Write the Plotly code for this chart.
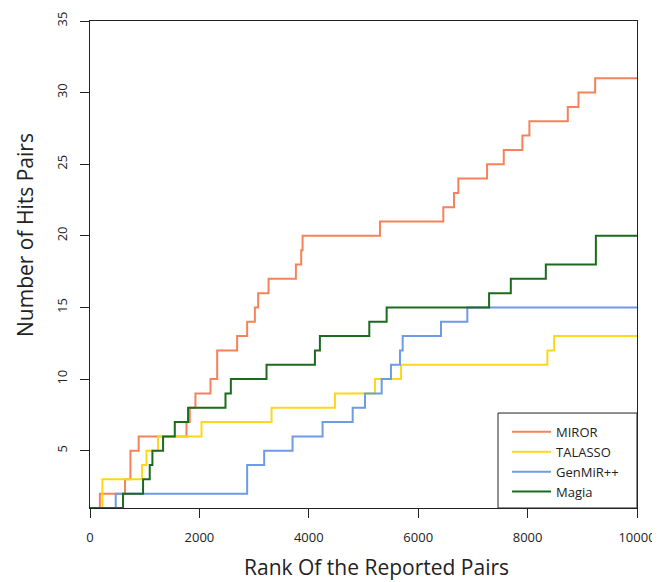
import plotly.graph_objects as go

# ---- data ----
miror_x = [0, 180, 640, 739, 890, 1764, 1824, 1928, 2203, 2325, 2690, 2873, 3014, 3074,
           3264, 3764, 3861, 3886, 5301, 6459, 6655, 6734, 7259, 7564, 7905, 8033, 8735,
           8930, 9235, 10000]
miror_y = [1, 2, 3, 5, 6, 7, 8, 9, 10, 12, 13, 14, 15, 16, 17, 18, 19, 20, 21, 22, 23, 24,
           25, 26, 27, 28, 29, 30, 31, 31]

talasso_x = [0, 227, 952, 1032, 1244, 2038, 3319, 4478, 5210, 5686, 8362, 8485, 10000]
talasso_y = [1, 3, 4, 5, 6, 7, 8, 9, 10, 11, 12, 13, 13]

genmir_x = [0, 470, 2873, 3184, 3703, 4252, 4802, 5027, 5332, 5502, 5667, 5716, 6417, 6898, 10000]
genmir_y = [1, 2, 4, 5, 6, 7, 8, 9, 10, 11, 12, 13, 14, 15, 15]

magia_x = [0, 604, 970, 1092, 1141, 1336, 1550, 1793, 2477, 2575, 3227, 4112, 4203, 5106,
           5423, 7296, 7693, 8333, 9248, 10000]
magia_y = [1, 2, 3, 4, 5, 6, 7, 8, 9, 10, 11, 12, 13, 14, 15, 16, 17, 18, 20, 20]

series_names = ["MIROR", "TALASSO", "GenMiR++", "Magia"]
series_colors = ["#F5825A", "#FFD71A", "#6E9BE3", "#1B6B1E"]

x_ticks = [0, 2000, 4000, 6000, 8000, 10000]
y_ticks = [5, 10, 15, 20, 25, 30, 35]

FONT = "Open Sans"

fig = go.Figure()
for name, xs, ys, col in zip(series_names,
                             [miror_x, talasso_x, genmir_x, magia_x],
                             [miror_y, talasso_y, genmir_y, magia_y],
                             series_colors):
    fig.add_trace(go.Scatter(x=xs, y=ys, mode="lines", name=name,
                             line=dict(color=col, width=2, shape="hv")))

# the page body adds an 8px offset, so the figure is 8px smaller than the window
fig.update_layout(
    width=652, height=574,
    margin=dict(l=82, r=23, t=13, b=74, autoexpand=False),
    paper_bgcolor="white", plot_bgcolor="white",
    font=dict(family=FONT, color="#222"),
    showlegend=True,
    legend=dict(x=0.7624, y=0.1871, xanchor="left", yanchor="top",
                bgcolor="rgba(0,0,0,0)", borderwidth=0,
                font=dict(size=13, family=FONT, color="#222"),
                itemwidth=39, tracegroupgap=0),
    shapes=[
        # legend frame (R-style box, flush with the plot's bottom-right corner)
        dict(type="rect", xref="paper", yref="paper", x0=0.7459, x1=1, y0=0, y1=0.195,
             line=dict(color="#222", width=1), fillcolor="white", layer="above"),
    ],
    annotations=[
        dict(text="Rank Of the Reported Pairs", xref="paper", yref="paper",
             x=0.5238, y=-0.1211, xanchor="center", yanchor="middle",
             showarrow=False, font=dict(size=21, family=FONT, color="#222")),
        dict(text="Number of Hits Pairs", xref="paper", yref="paper",
             x=-0.1188, y=0.5606, xanchor="center", yanchor="middle", textangle=-90,
             showarrow=False, font=dict(size=21, family=FONT, color="#222")),
    ],
)
fig.update_xaxes(range=[0, 10000], tickvals=x_ticks, ticktext=[str(v) for v in x_ticks],
                 ticks="outside", ticklen=9, tickcolor="#222", showline=True,
                 linecolor="#222", linewidth=1, mirror=True, showgrid=False,
                 zeroline=False, tickfont=dict(size=13, color="#222"),
                 ticklabelstandoff=8)
fig.update_yaxes(range=[1, 35], tickvals=y_ticks, ticktext=[str(v) for v in y_ticks],
                 ticks="outside", ticklen=9, tickcolor="#222", showline=True,
                 linecolor="#222", linewidth=1, mirror=True, showgrid=False,
                 zeroline=False, tickangle=-90, tickfont=dict(size=13, color="#222"),
                 ticklabelstandoff=8)

fig.write_html("out.html")
